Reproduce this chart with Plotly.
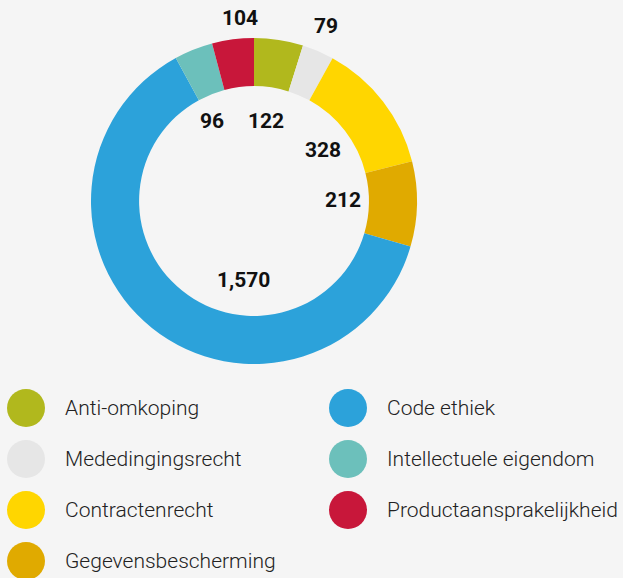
import plotly.graph_objects as go

categories = ["Anti-omkoping", "Mededingingsrecht", "Contractenrecht", "Gegevensbescherming",
              "Code ethiek", "Intellectuele eigendom", "Productaansprakelijkheid"]
values = [122, 79, 328, 212, 1570, 96, 104]
value_labels = ["122", "79", "328", "212", "1,570", "96", "104"]
colors = ["#b1b81d", "#e6e6e6", "#ffd600", "#e0aa00", "#2ca2da", "#6cc0bb", "#c8173a"]

W, H = 623, 578
cx, cy, R = 254, 201, 163

# label positions (pixel offsets from the donut centre)
label_offsets = [(12, -80), (72, -175), (69, -51), (89, -1), (-10, 79), (-42, -80), (-14, -183)]

fig = go.Figure()
fig.add_trace(go.Pie(
    labels=categories, values=values, sort=False, direction="clockwise", rotation=0,
    hole=0.705, marker=dict(colors=colors, line=dict(width=0)),
    textinfo="none", hoverinfo="label+value", showlegend=False,
    domain=dict(x=[(cx - R) / W, (cx + R) / W], y=[1 - (cy + R) / H, 1 - (cy - R) / H]),
))

annotations = []
for lab, (dx, dy) in zip(value_labels, label_offsets):
    annotations.append(dict(
        x=(cx + dx) / W, y=1 - (cy + dy) / H, xref="paper", yref="paper",
        text=lab, showarrow=False, xanchor="center", yanchor="middle",
        font=dict(family="Roboto", size=21, color="#111111", weight="bold"),
    ))

# custom two-column legend
leg_x, leg_y = [], []
for i, c in enumerate(categories):
    col, row = i // 4, i % 4
    x = 26 + col * 322
    y = 408 + row * 51
    leg_x.append(x)
    leg_y.append(y)
    annotations.append(dict(
        x=x + 37, y=y, xref="x", yref="y", text=c, showarrow=False,
        xanchor="left", yanchor="middle",
        font=dict(family="Roboto", size=21, color="#222222", weight=300),
    ))

fig.add_trace(go.Scatter(
    x=leg_x, y=leg_y, mode="markers", showlegend=False, hoverinfo="skip",
    marker=dict(size=38, color=colors, line=dict(width=0)),
    xaxis="x", yaxis="y",
))

fig.update_layout(
    width=W, height=H, margin=dict(l=0, r=0, t=0, b=0),
    paper_bgcolor="#f5f5f5", plot_bgcolor="rgba(0,0,0,0)",
    xaxis=dict(range=[0, W], domain=[0, 1], visible=False, fixedrange=True),
    yaxis=dict(range=[H, 0], domain=[0, 1], visible=False, fixedrange=True),
    annotations=annotations, showlegend=False,
)

fig.write_html("out.html", config={"displayModeBar": False},
               post_script="document.body.style.margin='0';document.body.style.background='#f5f5f5';")
